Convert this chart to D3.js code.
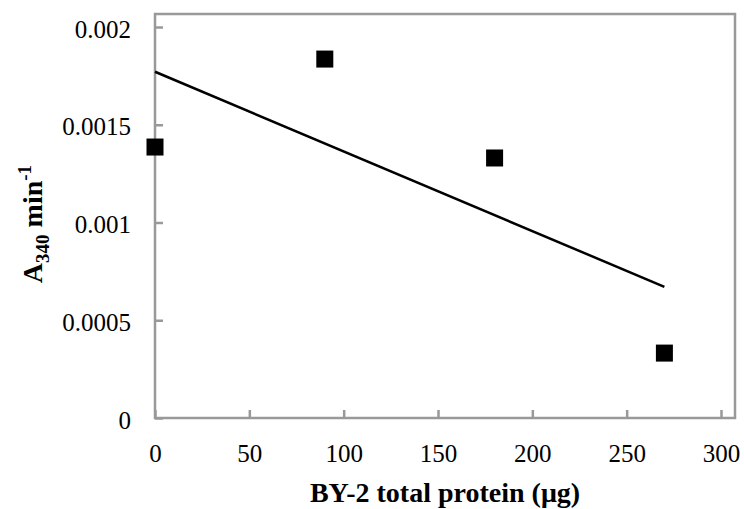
<!DOCTYPE html>
<html>
<head>
<meta charset="utf-8">
<script src="https://cdn.jsdelivr.net/npm/d3@7"></script>
<style>
  html, body { margin: 0; padding: 0; background: #fff; }
  svg { display: block; }
  text { font-family: "Liberation Serif", "DejaVu Serif", serif; fill: #000; }
</style>
</head>
<body>
<svg id="chart" width="744" height="509"></svg>
<script>
// ---- data ----
const proteinUg = [0, 90, 180, 270];
const a340PerMin = [0.001386, 0.001836, 0.00133, 0.000332];
const xTicks = [0, 50, 100, 150, 200, 250, 300];
const yTicks = [0, 0.0005, 0.001, 0.0015, 0.002];
const yTickLabels = ["0", "0.0005", "0.001", "0.0015", "0.002"];
const xTitle = "BY-2 total protein (μg)";

const serif = '"Liberation Serif", "DejaVu Serif", serif';
const svg = d3.select("#chart");
const frame = { left: 155, right: 735, top: 14, bottom: 418 };

const x = d3.scaleLinear().domain([0, 300]).range([155, 721]);
const y = d3.scaleLinear().domain([0, 0.002]).range([418, 27]);

const grey = "#999";

// frame
svg.append("rect")
  .attr("x", frame.left).attr("y", frame.top)
  .attr("width", frame.right - frame.left).attr("height", frame.bottom - frame.top)
  .attr("fill", "none").attr("stroke", grey).attr("stroke-width", 2.5);

// x axis
const xAxis = d3.axisBottom(x).tickValues(xTicks).tickSizeInner(-8).tickSizeOuter(0).tickPadding(20)
  .tickFormat(d3.format("d"));
const gx = svg.append("g").attr("transform", `translate(0,${frame.bottom})`).call(xAxis);
gx.attr("font-family", null);
gx.select(".domain").remove();
gx.selectAll(".tick line").attr("stroke", grey).attr("stroke-width", 2.5);
gx.selectAll(".tick text").style("font-family", serif).style("font-size", "25px").attr("dy", "0.95em");

// y axis
const yAxis = d3.axisLeft(y).tickValues(yTicks).tickSizeInner(-8).tickSizeOuter(0).tickPadding(24)
  .tickFormat((d, i) => yTickLabels[i]);
const gy = svg.append("g").attr("transform", `translate(${frame.left},0)`).call(yAxis);
gy.attr("font-family", null);
gy.select(".domain").remove();
gy.selectAll(".tick line").attr("stroke", grey).attr("stroke-width", 2.5);
gy.selectAll(".tick text").style("font-family", serif).style("font-size", "25px").attr("dy", "0.4em");

// trendline (least squares fit)
const n = proteinUg.length;
const mx = d3.mean(proteinUg), my = d3.mean(a340PerMin);
let sxy = 0, sxx = 0;
for (let i = 0; i < n; i++) { sxy += (proteinUg[i] - mx) * (a340PerMin[i] - my); sxx += (proteinUg[i] - mx) ** 2; }
const slope = sxy / sxx, intercept = my - slope * mx;
const xr = d3.extent(proteinUg);
svg.append("line")
  .attr("x1", x(xr[0])).attr("y1", y(intercept + slope * xr[0]))
  .attr("x2", x(xr[1])).attr("y2", y(intercept + slope * xr[1]))
  .attr("stroke", "#000").attr("stroke-width", 2.5);

// markers
const s = 17;
svg.selectAll("rect.pt").data(proteinUg).enter().append("rect")
  .attr("class", "pt")
  .attr("x", d => x(d) - s / 2)
  .attr("y", (d, i) => y(a340PerMin[i]) - s / 2)
  .attr("width", s).attr("height", s)
  .attr("fill", "#000");

// x title
svg.append("text").attr("x", 445).attr("y", 502).attr("text-anchor", "middle")
  .style("font-family", serif).attr("font-size", 28).attr("font-weight", "bold").text(xTitle);

// y title
const yt = svg.append("text").attr("transform", "translate(42,224) rotate(-90)")
  .style("font-family", serif).attr("text-anchor", "middle").attr("font-size", 28).attr("font-weight", "bold");
yt.append("tspan").text("A");
yt.append("tspan").attr("font-size", 19).attr("dy", 7).text("340");
yt.append("tspan").attr("dy", -7).text(" min");
yt.append("tspan").attr("font-size", 19).attr("dy", -11).text("-1");
</script>
</body>
</html>
